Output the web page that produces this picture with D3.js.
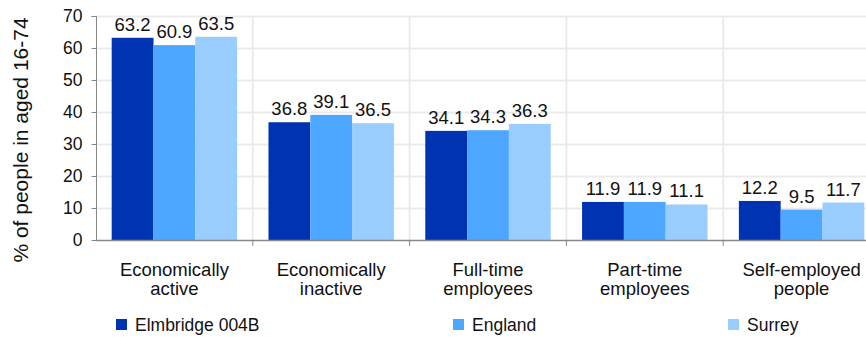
<!DOCTYPE html>
<html>
<head>
<meta charset="utf-8">
<script src="https://cdn.jsdelivr.net/npm/d3@7/dist/d3.min.js"></script>
<style>
  body { margin: 0; background: #fff; }
  svg { font-family: "Liberation Sans", Arial, sans-serif; }
</style>
</head>
<body>
<div id="chart"></div>
<script>
// chart data
var categories = [["Economically", "active"], ["Economically", "inactive"], ["Full-time", "employees"], ["Part-time", "employees"], ["Self-employed", "people"]];
var seriesNames = ["Elmbridge 004B", "England", "Surrey"];
var elmbridge = [63.2, 36.8, 34.1, 11.9, 12.2];
var england = [60.9, 39.1, 34.3, 11.9, 9.5];
var surrey = [63.5, 36.5, 36.3, 11.1, 11.7];
var yTicks = [0, 10, 20, 30, 40, 50, 60, 70];
var colors = ["#0033b2", "#4da6ff", "#99ccff"];

var width = 866, height = 337;
var series = [elmbridge, england, surrey];

var svg = d3.select("#chart").append("svg")
    .attr("width", width)
    .attr("height", height);

// plot runs off the right edge like the original
var x0 = d3.scaleBand()
    .domain(d3.range(categories.length))
    .range([96, 880]);
var step = x0.step();
var y = d3.scaleLinear().domain([0, 70]).range([240, 16]);

// horizontal grid
svg.append("g").selectAll("line")
    .data(yTicks.slice(1))
    .enter().append("line")
    .attr("x1", 96).attr("x2", width)
    .attr("y1", function (d) { return y(d) + 0.5; })
    .attr("y2", function (d) { return y(d) + 0.5; })
    .attr("stroke", "#ebebeb")
    .attr("stroke-width", 2);

// vertical grid at category edges
var edges = d3.range(1, categories.length).map(function (i) { return x0(i); });
svg.append("g").selectAll("line")
    .data(edges)
    .enter().append("line")
    .attr("x1", function (d) { return d; }).attr("x2", function (d) { return d; })
    .attr("y1", 16).attr("y2", 240)
    .attr("stroke", "#ebebeb")
    .attr("stroke-width", 2);

// bars
var groups = svg.append("g").selectAll("g")
    .data(categories)
    .enter().append("g")
    .attr("transform", function (d, i) { return "translate(" + (x0(i) + step * 0.1) + ",0)"; });

groups.each(function (c, i) {
    var g = d3.select(this);
    var w = (step * 0.8) / 3;
    series.forEach(function (s, j) {
        g.append("rect")
            .attr("x", j * w)
            .attr("width", w)
            .attr("y", y(s[i]))
            .attr("height", y(0) - y(s[i]))
            .attr("fill", colors[j]);
        g.append("text")
            .attr("x", j * w + w / 2)
            .attr("y", y(s[i]) - 7)
            .attr("text-anchor", "middle")
            .attr("font-size", 18.5)
            .attr("fill", "#111")
            .text(s[i].toFixed(1));
    });
});

// y axis
var yAxis = svg.append("g")
    .attr("transform", "translate(96.5,0)")
    .call(d3.axisLeft(y).tickValues(yTicks).tickSize(5).tickPadding(9));
yAxis.select(".domain").attr("stroke", "#888").attr("d", "M-5," + (y(70) + 0.5) + "H0V" + (y(0) + 0.5));
yAxis.selectAll(".tick line").attr("stroke", "#888");
yAxis.selectAll(".tick text").attr("font-size", 17.5).attr("fill", "#111").attr("font-family", "Liberation Sans, Arial, sans-serif");

// x axis
svg.append("line")
    .attr("x1", 96).attr("x2", width)
    .attr("y1", 240.5).attr("y2", 240.5)
    .attr("stroke", "#888").attr("stroke-width", 1.5);
svg.append("g").selectAll("line")
    .data(edges)
    .enter().append("line")
    .attr("x1", function (d) { return d; }).attr("x2", function (d) { return d; })
    .attr("y1", 240).attr("y2", 246)
    .attr("stroke", "#888");

// category labels
categories.forEach(function (c, i) {
    var cx = x0(i) + step / 2;
    var t = svg.append("text")
        .attr("x", cx)
        .attr("y", 276)
        .attr("text-anchor", "middle")
        .attr("font-size", 18.5)
        .attr("fill", "#111");
    t.append("tspan").attr("x", cx).text(c[0]);
    t.append("tspan").attr("x", cx).attr("dy", 19).text(c[1]);
});

// y title
svg.append("text")
    .attr("transform", "translate(28,140) rotate(-90)")
    .attr("text-anchor", "middle")
    .attr("font-size", 21)
    .attr("fill", "#111")
    .text("% of people in aged 16-74");

// legend
var legendX = [116, 453, 728];
seriesNames.forEach(function (n, j) {
    svg.append("rect")
        .attr("x", legendX[j]).attr("y", 319)
        .attr("width", 11).attr("height", 11)
        .attr("fill", colors[j]);
    svg.append("text")
        .attr("x", legendX[j] + 19).attr("y", 331)
        .attr("font-size", 17.5)
        .attr("fill", "#111")
        .text(n);
});
</script>
</body>
</html>
